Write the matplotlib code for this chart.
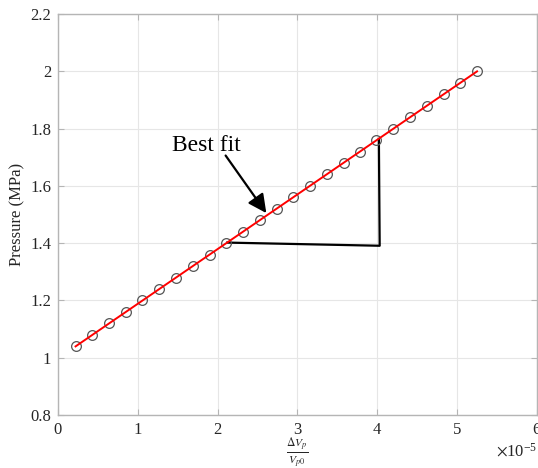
import numpy as np
import matplotlib
matplotlib.use('Agg')
import matplotlib.pyplot as plt

plt.rcParams['font.family'] = ['Liberation Serif', 'DejaVu Serif']
plt.rcParams['mathtext.fontset'] = 'stix'

# ---- data (x in units of 1e-5) ----
strain = [0.22, 0.43, 0.64, 0.85, 1.05, 1.27, 1.48, 1.69, 1.90, 2.11, 2.32, 2.53,
          2.74, 2.95, 3.16, 3.37, 3.58, 3.78, 3.99, 4.20, 4.41, 4.62, 4.83, 5.04, 5.25]
pressure = [1.04, 1.08, 1.12, 1.16, 1.20, 1.24, 1.28, 1.32, 1.36, 1.40, 1.44, 1.48,
            1.52, 1.56, 1.60, 1.64, 1.68, 1.72, 1.76, 1.80, 1.84, 1.88, 1.92, 1.96, 2.00]

# slope triangle vertices
tri_x = [2.12, 4.03, 4.02]
tri_y = [1.402, 1.391, 1.764]

# annotation
label_xy = (1.43, 1.74)
arrow_tail = (2.10, 1.706)
arrow_tip = (2.61, 1.505)

x = np.array(strain) * 1e-5
y = np.array(pressure)
coef = np.polyfit(x, y, 1)
xfit = np.array([x[0], x[-1]])

fig = plt.figure(figsize=(5.38, 4.68), dpi=100)
ax = fig.add_axes([0.1078, 0.1132, 0.8902, 0.8568])

ax.plot(x, y, 'o', mfc='none', mec='#555555', ms=7, mew=0.9, zorder=3)
ax.plot(xfit, np.polyval(coef, xfit), color='red', lw=1.4, zorder=4)
ax.plot(np.array(tri_x) * 1e-5, tri_y, color='black', lw=1.6, zorder=2)

ax.annotate('', xy=(arrow_tip[0] * 1e-5, arrow_tip[1]),
            xytext=(arrow_tail[0] * 1e-5, arrow_tail[1]),
            arrowprops=dict(arrowstyle='-|>', color='black', lw=1.6,
                            mutation_scale=28, shrinkA=0, shrinkB=0), zorder=5)
ax.text(label_xy[0] * 1e-5, label_xy[1], 'Best fit', fontsize=17,
        va='center', ha='left')

ax.set_xlim(0, 6e-5)
ax.set_ylim(0.8, 2.2)
ax.set_xticks(np.arange(0, 7) * 1e-5)
ax.set_yticks(np.arange(0.8, 2.21, 0.2))
ax.set_yticklabels(['0.8', '1', '1.2', '1.4', '1.6', '1.8', '2', '2.2'])

fmt = matplotlib.ticker.ScalarFormatter(useMathText=True)
fmt.set_powerlimits((0, 0))
ax.xaxis.set_major_formatter(fmt)
ax.xaxis.get_offset_text().set_fontsize(12)
ax.xaxis.get_offset_text().set_color('#262626')

ax.grid(True, color='#e6e6e6', lw=0.8)
ax.set_axisbelow(True)
for s in ax.spines.values():
    s.set_color('#b5b5b5')
    s.set_linewidth(1.0)
ax.tick_params(direction='in', top=True, right=True, length=4, pad=5,
               color='#b5b5b5', labelcolor='#262626', labelsize=12)

ax.set_ylabel('Pressure (MPa)', fontsize=12, color='#262626', labelpad=3)
ax.set_xlabel(r'$\frac{\Delta V_p}{V_{p0}}$', fontsize=12, color='#262626', labelpad=-2)

fig.savefig('out.png', dpi=100)
